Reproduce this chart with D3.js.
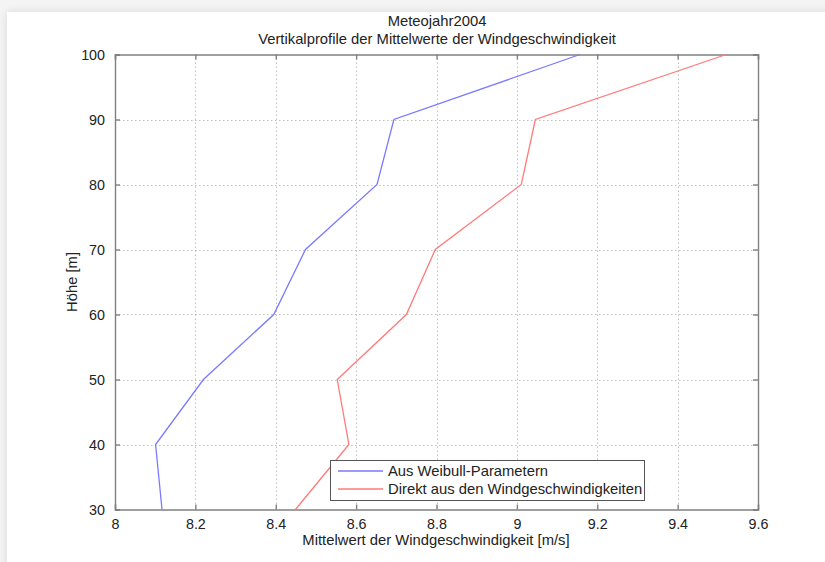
<!DOCTYPE html>
<html>
<head>
<meta charset="utf-8">
<script src="https://cdn.jsdelivr.net/npm/d3@7"></script>
<style>
  html, body { margin: 0; padding: 0; background: #f4f4f4; }
  svg { display: block; }
  text { font-family: "Liberation Sans", Arial, Helvetica, sans-serif; fill: #222; }
</style>
</head>
<body>
<script>
// ---- data ----
const heights = [30, 40, 50, 60, 70, 80, 90, 100];
const weibull = [8.117, 8.101, 8.22, 8.395, 8.474, 8.652, 8.694, 9.157];
const direkt  = [8.449, 8.582, 8.553, 8.725, 8.797, 9.011, 9.046, 9.521];
const xTicks = [8, 8.2, 8.4, 8.6, 8.8, 9, 9.2, 9.4, 9.6];
const yTicks = [30, 40, 50, 60, 70, 80, 90, 100];
const seriesNames = ["Aus Weibull-Parametern", "Direkt aus den Windgeschwindigkeiten"];
const titleLines = ["Meteojahr2004", "Vertikalprofile der Mittelwerte der Windgeschwindigkeit"];
const xLabel = "Mittelwert der Windgeschwindigkeit [m/s]";
const yLabel = "Höhe [m]";

const W = 825, H = 562;
const L = 115, R = 758, T = 54.5, B = 509.5;
const FS = 14.8;

const svg = d3.select("body").append("svg").attr("width", W).attr("height", H);

// card background with soft shadow
const defs = svg.append("defs");
const f = defs.append("filter").attr("id", "sh").attr("x", "-5%").attr("y", "-5%").attr("width", "110%").attr("height", "110%");
f.append("feGaussianBlur").attr("in", "SourceAlpha").attr("stdDeviation", 4);
f.append("feComponentTransfer").append("feFuncA").attr("type", "linear").attr("slope", 0.12);
const m = f.append("feMerge");
m.append("feMergeNode");
m.append("feMergeNode").attr("in", "SourceGraphic");
svg.append("rect").attr("x", 7).attr("y", 12).attr("width", W + 20).attr("height", H + 20)
  .attr("fill", "#fff").attr("filter", "url(#sh)");

const x = d3.scaleLinear().domain([8, 9.6]).range([L, R]);
const y = d3.scaleLinear().domain([30, 100]).range([B, T]);

// grid
const grid = svg.append("g").attr("stroke", "#c0c0c0").attr("stroke-width", 1).attr("stroke-dasharray", "1.5,2.5");
grid.selectAll(".gx").data(xTicks.slice(1, -1)).join("line")
  .attr("x1", d => Math.round(x(d)) + 0.5).attr("x2", d => Math.round(x(d)) + 0.5)
  .attr("y1", T).attr("y2", B);
grid.selectAll(".gy").data(yTicks.slice(1, -1)).join("line")
  .attr("y1", d => Math.round(y(d)) + 0.5).attr("y2", d => Math.round(y(d)) + 0.5)
  .attr("x1", L).attr("x2", R);

// axes (inward ticks, both sides)
const axColor = "#808080";
const gB = svg.append("g").attr("transform", `translate(0,${B})`)
  .call(d3.axisBottom(x).tickValues(xTicks).tickSize(-5).tickPadding(9).tickFormat(d3.format("")));
const gT = svg.append("g").attr("transform", `translate(0,${T})`)
  .call(d3.axisTop(x).tickValues(xTicks).tickSize(-5).tickFormat(""));
const gL = svg.append("g").attr("transform", `translate(${L},0)`)
  .call(d3.axisLeft(y).tickValues(yTicks).tickSize(-5).tickPadding(10));
const gR = svg.append("g").attr("transform", `translate(${R},0)`)
  .call(d3.axisRight(y).tickValues(yTicks).tickSize(-5).tickFormat(""));
[gB, gT, gL, gR].forEach(g => {
  g.select(".domain").attr("stroke", axColor).attr("stroke-width", 1.4);
  g.selectAll(".tick line").attr("stroke", axColor).attr("stroke-width", 1.4);
  g.selectAll(".tick text").attr("font-size", 14.3).attr("fill", "#222")
    .attr("font-family", "'Liberation Sans', Arial, sans-serif");
});

// lines
const line = vals => d3.line().x((d, i) => x(vals[i])).y(d => y(d))(heights);
svg.append("path").attr("d", line(weibull)).attr("fill", "none")
  .attr("stroke", "#7a7aff").attr("stroke-width", 1.3);
svg.append("path").attr("d", line(direkt)).attr("fill", "none")
  .attr("stroke", "#ff7a7a").attr("stroke-width", 1.3);

// titles
svg.append("text").attr("x", 437).attr("y", 26).attr("text-anchor", "middle").attr("font-size", FS).text(titleLines[0]);
svg.append("text").attr("x", 437).attr("y", 43.5).attr("text-anchor", "middle").attr("font-size", FS).text(titleLines[1]);
svg.append("text").attr("x", 436).attr("y", 545).attr("text-anchor", "middle").attr("font-size", FS).text(xLabel);
svg.append("text").attr("transform", `translate(77,${(T + B) / 2}) rotate(-90)`)
  .attr("text-anchor", "middle").attr("font-size", FS).text(yLabel);

// legend
const lg = svg.append("g");
lg.append("rect").attr("x", 330.5).attr("y", 460.5).attr("width", 314).attr("height", 40)
  .attr("fill", "#fff").attr("stroke", "#555").attr("stroke-width", 1);
const colors = ["#7a7aff", "#ff7a7a"];
seriesNames.forEach((n, i) => {
  const yy = 471 + i * 18;
  lg.append("line").attr("x1", 338).attr("x2", 383).attr("y1", yy).attr("y2", yy)
    .attr("stroke", colors[i]).attr("stroke-width", 1.3);
  lg.append("text").attr("x", 388).attr("y", yy + 5).attr("font-size", FS).text(n);
});
</script>
</body>
</html>
